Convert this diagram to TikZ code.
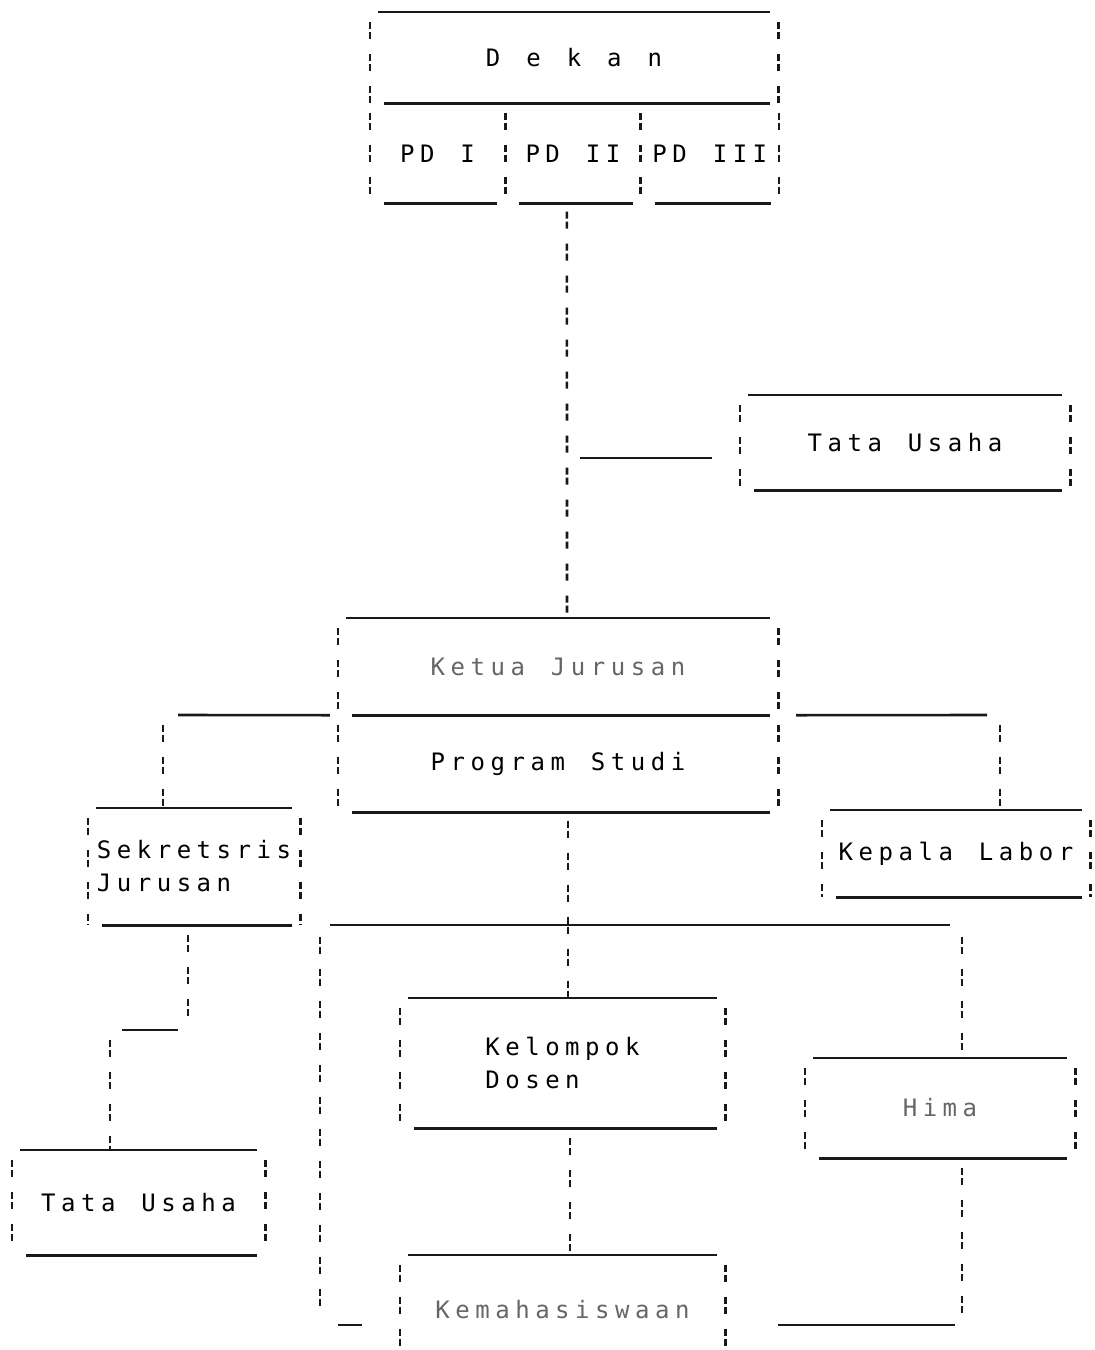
\documentclass[tikz,border=0pt]{standalone}
\usepackage{fontspec}
\newfontfamily\dotfont{DejaVu Sans Mono}[LetterSpace=23,WordSpace=1.3]
\usepackage{tikz}
\usetikzlibrary{positioning}

\begin{document}
\begin{tikzpicture}[
            x=1pt, y=-1pt, % pixel grid of the scan
            every node/.style={inner sep=0pt, align=center, font={\dotfont\fontsize{24pt}{33pt}\selectfont}},
            hline/.style={line width=2.6pt, black!90},
            vline/.style={line width=2.6pt, black!90, dash pattern=on 7pt off 3pt on 7pt off 15pt},
            faded/.style={text=black!60}
        ]
            \useasboundingbox (0,0) rectangle (1095,1350);
            \clip (0,0) rectangle (1095,1350);

            \node[minimum width=408pt, minimum height=91pt] (dekan) at (574,57.5) {D e k a n};
            \node[minimum width=135pt, minimum height=100pt, below right=0pt of dekan.south west] (pd1) {PD I};
            \node[minimum width=135pt, minimum height=100pt, right=0pt of pd1] (pd2) {PD II};
            \node[minimum width=138pt, minimum height=100pt, right=0pt of pd2] (pd3) {PD III};
            \node[minimum width=330pt, minimum height=95pt] (tuA) at (905,442.5) {Tata Usaha};
            \node[faded, minimum width=440pt, minimum height=97pt] (ketua) at (558,666.5) {Ketua Jurusan};
            \node[minimum width=440pt, minimum height=97pt, below=0pt of ketua] (prodi) {Program Studi};
            \node[minimum width=212pt, minimum height=117pt, align=left] (sekjur) at (194,866.5) {Sekretsris\\Jurusan};
            \node[minimum width=268pt, minimum height=87pt] (kalab) at (956,853.5) {Kepala Labor};
            \node[minimum width=325pt, minimum height=130pt, align=left] (kelompok) at (562.5,1063) {Kelompok\\Dosen};
            \node[faded, minimum width=270pt, minimum height=100pt] (hima) at (940,1108) {Hima};
            \node[faded, minimum width=325pt, minimum height=110pt] (kema) at (562.5,1310) {Kemahasiswaan};
            \node[minimum width=253pt, minimum height=105pt] (tuB) at (138.5,1202.5) {Tata Usaha};

            \foreach \n in {dekan,tuA,ketua,sekjur,kalab,kelompok,hima,kema,tuB}
                \draw[hline] ([xshift=8pt]\n.north west) -- ([xshift=-8pt]\n.north east);
            \foreach \n in {dekan,pd1,pd2,pd3,tuA,ketua,prodi,sekjur,kalab,kelompok,hima,tuB}
                \draw[hline] ([xshift=14pt]\n.south west) -- ([xshift=-8pt]\n.south east);
            \foreach \n in {dekan,pd1,pd2,pd3,tuA,ketua,prodi,sekjur,kalab,kelompok,hima,kema,tuB}
                \draw[vline] ([yshift=-10pt]\n.north west) -- (\n.south west)
                             ([yshift=-10pt]\n.north east) -- (\n.south east);

            \coordinate (brL) at (163,715);
            \coordinate (brR) at (1000,715);
            \coordinate (busL) at (320,925);
            \coordinate (busR) at (962,925);
            \coordinate (hmJoin) at (busR |- kema.east);
            \coordinate (skT) at (188,1030);
            \coordinate (skB) at (110,1030);

            \draw[vline] ([xshift=-6pt,yshift=-8pt]pd2.south) -- ([xshift=9pt]ketua.north);
            \draw[hline] (tuA.west -| ketua.north) ++(22,15.5) -- ([xshift=-28pt,yshift=-15.5pt]tuA.west);

            \draw[hline] ([xshift=-8pt]prodi.north west) -- ([xshift=15pt]brL);
            \draw[vline] ([yshift=-10pt]brL) -- (brL |- sekjur.north);
            \draw[hline] ([xshift=18pt]prodi.north east) -- ([xshift=-13pt]brR);
            \draw[vline] ([yshift=-10pt]brR) -- (brR |- kalab.north);

            \draw[vline] ([xshift=10pt,yshift=-8pt]prodi.south) -- ([xshift=5.5pt]kelompok.north);
            \draw[hline] ([xshift=10pt]busL) -- ([xshift=-12pt]busR);
            \draw[vline] ([yshift=-12pt]busL) -- (busL |- kema.west);
            \draw[hline] (busL |- kema.west) ++(18,15) -- ([xshift=-38pt,yshift=-15pt]kema.west);
            \draw[vline] ([yshift=-12pt]busR) -- (busR |- hima.north);
            \draw[vline] ([xshift=7.5pt,yshift=-10pt]kelompok.south) -- ([xshift=7.5pt]kema.north);
            \draw[vline] (busR |- hima.south) ++(0,10) -- ([yshift=-12pt]hmJoin);
            \draw[hline] ([xshift=-7pt,yshift=-15pt]hmJoin) -- ([xshift=53pt,yshift=-15pt]kema.east);

            \draw[vline] (skT |- sekjur.south) ++(0,10) -- (skT);
            \draw[hline] ([xshift=-10pt]skT) -- ([xshift=12pt]skB);
            \draw[vline] ([yshift=-10pt]skB) -- (skB |- tuB.north);
        \end{tikzpicture}
\end{document}
